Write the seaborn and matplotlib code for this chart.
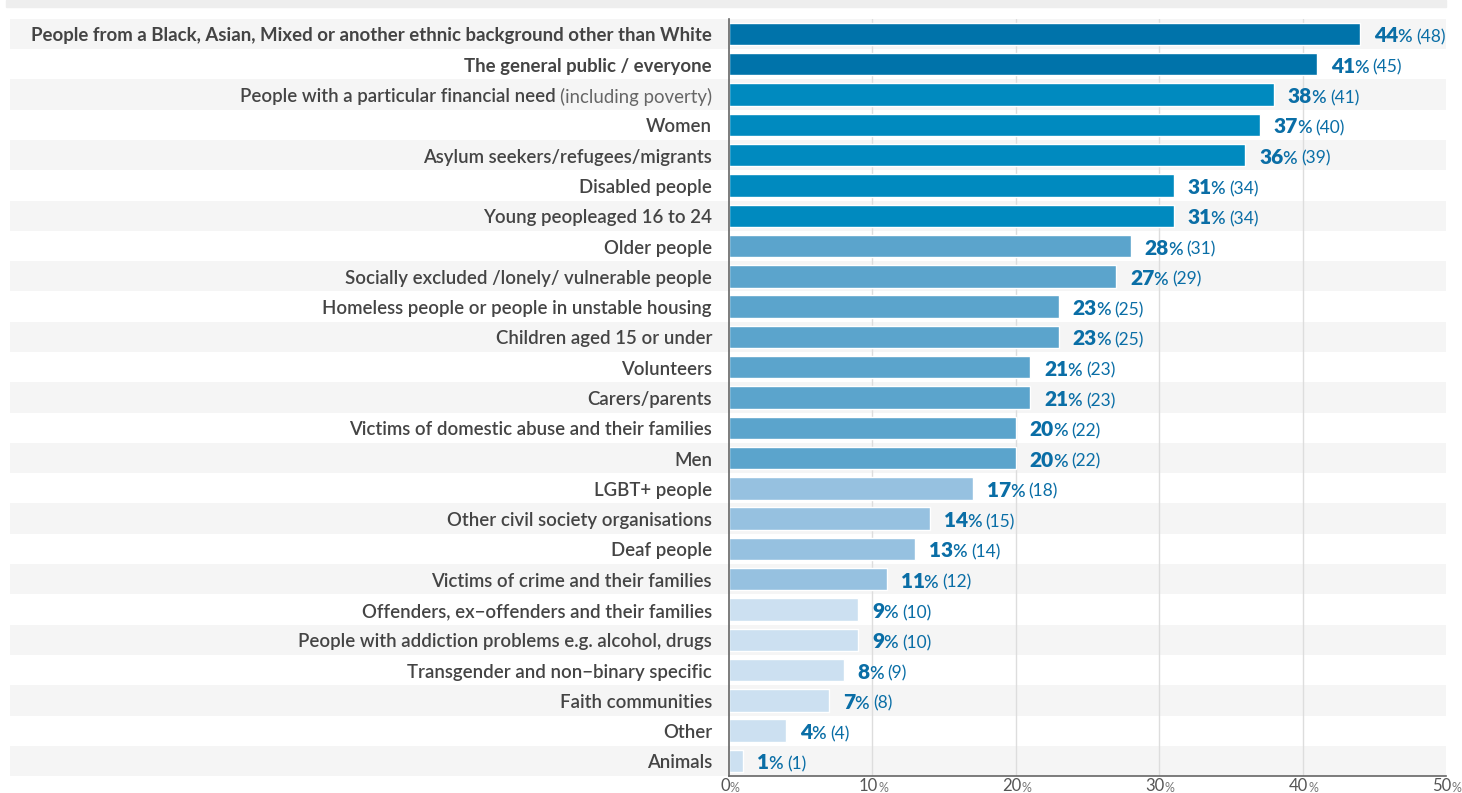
import matplotlib
matplotlib.use("Agg")
import matplotlib.pyplot as plt
import seaborn as sns
import pandas as pd
from matplotlib.patches import Rectangle

# Beneficiary groups, top to bottom
groups = [
    "People from a Black, Asian, Mixed or another ethnic background other than White",
    "The general public / everyone",
    "People with a particular financial need",
    "Women",
    "Asylum seekers/refugees/migrants",
    "Disabled people",
    "Young peopleaged 16 to 24",
    "Older people",
    "Socially excluded /lonely/ vulnerable people",
    "Homeless people or people in unstable housing",
    "Children aged 15 or under",
    "Volunteers",
    "Carers/parents",
    "Victims of domestic abuse and their families",
    "Men",
    "LGBT+ people",
    "Other civil society organisations",
    "Deaf people",
    "Victims of crime and their families",
    "Offenders, ex\u2212offenders and their families",
    "People with addiction problems e.g. alcohol, drugs",
    "Transgender and non\u2212binary specific",
    "Faith communities",
    "Other",
    "Animals",
]
# Secondary (lighter) note appended to a label
label_notes = {"People with a particular financial need": "(including poverty)"}
# Labels set in bold
bold_groups = ["People from a Black, Asian, Mixed or another ethnic background other than White",
               "The general public / everyone"]

percent = [44, 41, 38, 37, 36, 31, 31, 28, 27, 23, 23, 21, 21, 20, 20,
           17, 14, 13, 11, 9, 9, 8, 7, 4, 1]
counts = [48, 45, 41, 40, 39, 34, 34, 31, 29, 25, 25, 23, 23, 22, 22,
          18, 15, 14, 12, 10, 10, 9, 8, 4, 1]
tiers = [0, 0, 1, 1, 1, 1, 1, 2, 2, 2, 2, 2, 2, 2, 2,
         3, 3, 3, 3, 4, 4, 4, 4, 4, 4]
tier_colours = ["#0073aa", "#008abf", "#5ba4cc", "#96c1e0", "#cce0f1"]
x_ticks = [0, 10, 20, 30, 40, 50]

df = pd.DataFrame({"group": groups, "percent": percent, "count": counts})
palette = [tier_colours[t] for t in tiers]

sns.set_theme(style="white")
plt.rcParams["font.family"] = ["Lato", "DejaVu Sans"]

W, H = 1462, 793
fig = plt.figure(figsize=(W / 100, H / 100), dpi=100)
fig.patch.set_facecolor("white")

ax_left, ax_right = 729, 1446
ax_top, ax_bottom = 18.85, 776.1
ax = fig.add_axes([ax_left / W, 1 - ax_bottom / H,
                   (ax_right - ax_left) / W, (ax_bottom - ax_top) / H])
ax.patch.set_visible(False)

sns.barplot(data=df, x="percent", y="group", hue="group", palette=palette,
            legend=False, width=0.74, saturation=1, ax=ax, zorder=3)

ax.set_xlim(0, 50)
ax.set_ylim(len(groups) - 0.5, -0.5)
ax.set_xlabel("")
ax.set_ylabel("")
ax.set_xticks(x_ticks)
ax.set_xticklabels([])
ax.set_yticks(range(len(groups)))
ax.set_yticklabels([])
ax.tick_params(length=0)

for s in ["top", "right"]:
    ax.spines[s].set_visible(False)
for s in ["left", "bottom"]:
    ax.spines[s].set_color("#666666")
    ax.spines[s].set_linewidth(1.2)
    ax.spines[s].set_zorder(4)

# Alternating row bands reaching under the labels
band_xmin = (10 - ax_left) / (ax_right - ax_left)
for i in range(0, len(groups), 2):
    ax.axhspan(i - 0.5, i + 0.5, xmin=band_xmin, xmax=1,
               color="#f5f5f5", zorder=0, clip_on=False, lw=0)

for t in x_ticks[1:-1]:
    ax.axvline(t, color="#dddddd", lw=1, zorder=1)

# Thin grey strip across the top
fig.patches.append(Rectangle((6 / W, 1 - 6.5 / H), (ax_right - 6) / W, 6.5 / H,
                             transform=fig.transFigure, color="#eeeeee", zorder=0))

label_colour = "#444444"
note_colour = "#666666"
value_colour = "#0a6ea6"
label_size = 13.4

for i, g in enumerate(groups):
    weight = "bold" if g in bold_groups else "semibold"
    if g in label_notes:
        note = ax.annotate(label_notes[g], xy=(0, i), xycoords=("axes fraction", "data"),
                           xytext=(-17, -2), textcoords="offset pixels",
                           ha="right", va="center", fontsize=label_size,
                           color=note_colour, fontweight="normal")
        ax.annotate(g, xy=(0, 0.5), xycoords=note, xytext=(-4, 0),
                    textcoords="offset pixels", ha="right", va="center",
                    fontsize=label_size, color=label_colour, fontweight=weight)
    else:
        ax.annotate(g, xy=(0, i), xycoords=("axes fraction", "data"),
                    xytext=(-17, -2), textcoords="offset pixels",
                    ha="right", va="center", fontsize=label_size,
                    color=label_colour, fontweight=weight)

# Value labels: bold percentage, % sign, count in brackets
for i, (p, c) in enumerate(zip(percent, counts)):
    num = ax.annotate(f"{p}", xy=(p, i), xycoords="data", xytext=(14, -2),
                      textcoords="offset pixels", ha="left", va="center",
                      fontsize=15, fontweight="heavy", color=value_colour)
    pct = ax.annotate("%", xy=(1, 0), xycoords=num, xytext=(-1, 0),
                      textcoords="offset pixels", ha="left", va="bottom",
                      fontsize=13, fontweight="semibold", color=value_colour)
    ax.annotate(f"({c})", xy=(1, 0), xycoords=pct, xytext=(4, 0),
                textcoords="offset pixels", ha="left", va="bottom",
                fontsize=12.5, fontweight="normal", color=value_colour)

# Axis tick labels with a reduced % sign
for t in x_ticks:
    n = ax.annotate(f"{t}", xy=(t, 0), xycoords=("data", "axes fraction"),
                    xytext=(-4, -15), textcoords="offset pixels",
                    ha="center", va="baseline", fontsize=12, color="#555555")
    ax.annotate("%", xy=(1, 0), xycoords=n, xytext=(0, 0),
                textcoords="offset pixels", ha="left", va="bottom",
                fontsize=9, color="#777777")

fig.savefig("out.png", dpi=100)
